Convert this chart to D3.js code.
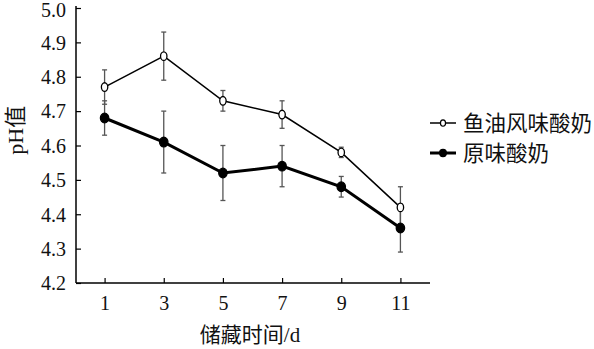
<!DOCTYPE html>
<html>
<head>
<meta charset="utf-8">
<script src="https://cdn.jsdelivr.net/npm/d3@7"></script>
<style>
  html, body { margin: 0; padding: 0; background: #fff; }
  svg { display: block; }
  .num { font-family: "Liberation Serif", "Times New Roman", serif; }
  .cjk { font-family: "Liberation Serif", "Noto Sans CJK SC", serif; }
</style>
</head>
<body>
<script>
// Storage days
const days = [1, 3, 5, 7, 9, 11];
// Fish-oil flavoured yoghurt: mean pH and standard deviation
const fishOilPH = [4.77, 4.86, 4.73, 4.69, 4.58, 4.42];
const fishOilSD = [0.05, 0.07, 0.03, 0.04, 0.015, 0.06];
// Plain yoghurt: mean pH and standard deviation
const plainPH = [4.68, 4.61, 4.52, 4.54, 4.48, 4.36];
const plainSD = [0.05, 0.09, 0.08, 0.06, 0.03, 0.07];
// Axis ticks and labels
const yTicks = [4.2, 4.3, 4.4, 4.5, 4.6, 4.7, 4.8, 4.9, 5.0];
const xTicks = [1, 3, 5, 7, 9, 11];
const seriesNames = ["鱼油风味酸奶", "原味酸奶"];
const xTitle = "储藏时间/d";
const yTitle = "pH值";

const W = 594, H = 349;
const svg = d3.select("body").append("svg").attr("width", W).attr("height", H);

const x = d3.scaleLinear().domain([0, 12]).range([75, 430]);
const y = d3.scaleLinear().domain([4.2, 5.0]).range([283, 8]);

// Axes with inward ticks
const yAxis = svg.append("g").attr("transform", "translate(76,0)")
  .call(d3.axisLeft(y).tickValues(yTicks).tickFormat(d3.format(".1f")).tickSizeInner(-5).tickSizeOuter(0).tickPadding(10));
const xAxis = svg.append("g").attr("transform", "translate(0,283)")
  .call(d3.axisBottom(x).tickValues(xTicks).tickFormat(d3.format("d")).tickSizeInner(-5).tickSizeOuter(0).tickPadding(13));
[yAxis, xAxis].forEach(a => {
  a.select(".domain").attr("stroke", "#000").attr("stroke-width", 1.5);
  a.selectAll(".tick line").attr("stroke", "#000").attr("stroke-width", 1.2);
  a.selectAll(".tick text").attr("class", "num").attr("font-size", 20).attr("fill", "#111");
});
xAxis.select(".domain").attr("d", `M76,0H430`);
yAxis.select(".domain").attr("d", `M0,283V6`);
// keep the top label inside the page
yAxis.selectAll(".tick text").attr("dy", d => d === 5.0 ? "0.44em" : "0.34em");
xAxis.selectAll(".tick text").attr("dy", "0.71em");

// Axis titles
svg.append("text").attr("class", "cjk").attr("font-size", 22).attr("fill", "#111")
  .attr("text-anchor", "middle")
  .attr("transform", `translate(23,${(y(4.6) + y(4.7)) / 2 + 2}) rotate(-90)`)
  .text(yTitle);
svg.append("text").attr("class", "cjk").attr("font-size", 21).attr("fill", "#111")
  .attr("text-anchor", "middle").attr("x", 250).attr("y", 342)
  .text(xTitle);

const series = [
  { name: seriesNames[0], vals: fishOilPH, sd: fishOilSD, width: 1.5, fill: "#fff", rx: 3.2, ry: 4.3 },
  { name: seriesNames[1], vals: plainPH, sd: plainSD, width: 3, fill: "#000", rx: 4.2, ry: 4.8 }
];

// Error bars
series.forEach(s => {
  const g = svg.append("g").attr("stroke", "#555").attr("stroke-width", 1.3);
  days.forEach((d, i) => {
    const cx = x(d), top = y(s.vals[i] + s.sd[i]), bot = y(s.vals[i] - s.sd[i]);
    g.append("line").attr("x1", cx).attr("x2", cx).attr("y1", top).attr("y2", bot);
    g.append("line").attr("x1", cx - 2.5).attr("x2", cx + 2.5).attr("y1", top).attr("y2", top);
    g.append("line").attr("x1", cx - 2.5).attr("x2", cx + 2.5).attr("y1", bot).attr("y2", bot);
  });
});

// Lines and markers
const line = d3.line().x((d, i) => x(days[i])).y(d => y(d));
series.forEach(s => {
  svg.append("path").datum(s.vals).attr("d", line)
    .attr("fill", "none").attr("stroke", "#000").attr("stroke-width", s.width);
  svg.selectAll(null).data(s.vals).enter().append("ellipse")
    .attr("cx", (d, i) => x(days[i])).attr("cy", d => y(d))
    .attr("rx", s.rx).attr("ry", s.ry)
    .attr("fill", s.fill).attr("stroke", "#000").attr("stroke-width", 1.3);
});

// Legend
const legend = svg.append("g");
series.forEach((s, i) => {
  const ly = 123 + i * 30;
  legend.append("line").attr("x1", 430).attr("x2", 456).attr("y1", ly).attr("y2", ly)
    .attr("stroke", "#000").attr("stroke-width", s.width);
  legend.append("ellipse").attr("cx", 443).attr("cy", ly)
    .attr("rx", s.rx * 0.8).attr("ry", s.ry * 0.75)
    .attr("fill", s.fill).attr("stroke", "#000").attr("stroke-width", 1.2);
  legend.append("text").attr("class", "cjk").attr("font-size", 21.5).attr("fill", "#111")
    .attr("x", 463).attr("y", ly).attr("dy", "0.36em").text(s.name);
});
</script>
</body>
</html>
